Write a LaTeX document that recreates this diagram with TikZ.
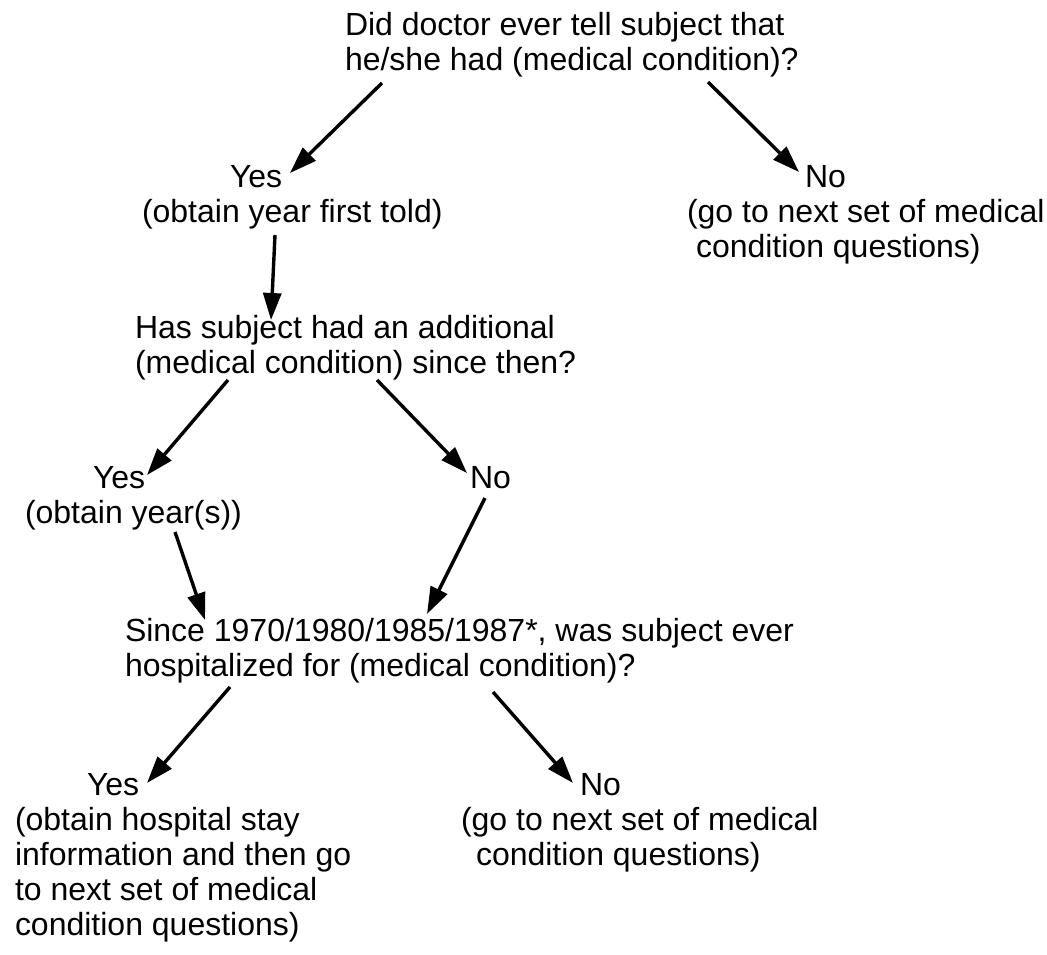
\documentclass[tikz,border=0pt]{standalone}
\usepackage{fontspec}
\setmainfont{Liberation Sans}
\usetikzlibrary{arrows.meta,calc}
\tikzset{
  txt/.style={anchor=base west, inner sep=0pt, outer sep=0pt, align=left,
              font=\fontsize{32}{35}\selectfont},
  arr/.style={line width=3.4pt, -{Triangle[length=27pt,width=18pt]}},
}
\begin{document}
\begin{tikzpicture}[x=1pt,y=-1pt]
\useasboundingbox (0,0) rectangle (1047,955);
% nodes (base anchor = baseline of the last line)
\node[txt] (q1) at (345,71) {Did doctor ever tell subject that\\he/she had (medical condition)?};
\node[txt] (yes1) at (230,187) {Yes};
\node[txt] (ob1) at (142,222) {(obtain year first told)};
\node[txt] (no1) at (805,187) {No};
\node[txt] (go1) at (687,257) {(go to next set of medical\\\hspace*{9pt}condition questions)};
\node[txt] (q2) at (135,373) {Has subject had an additional\\(medical condition) since then?};
\node[txt] (yes2) at (93,488) {Yes};
\node[txt] (ob2) at (25,523) {(obtain year(s))};
\node[txt] (no2) at (470,488) {No};
\node[txt] (q3) at (125,676) {Since 1970/1980/1985/1987*, was subject ever\\hospitalized for (medical condition)?};
\node[txt] (yes3) at (87,795) {Yes};
\node[txt] (ob3) at (15,935) {(obtain hospital stay\\information and then go\\to next set of medical\\condition questions)};
\node[txt] (no3) at (580,795) {No};
\node[txt] (go3) at (461,865) {(go to next set of medical\\\hspace*{15pt}condition questions)};
% connectors
\draw[arr] ($(q1.base west)+(37,12)$)   -- ($(yes1.base west)+(60,-14)$);
\draw[arr] ($(q1.base west)+(363,11)$)  -- ($(no1.base west)+(-6,-15)$);
\draw[arr] ($(ob1.base west)+(133,13)$) -- ($(q2.base west)+(136,-53)$);
\draw[arr] ($(q2.base west)+(93,7)$)    -- ($(yes2.base west)+(54,-13)$);
\draw[arr] ($(q2.base west)+(242,7)$)   -- ($(no2.base west)+(-3,-15)$);
\draw[arr] ($(no2.base west)+(15,10)$)  -- ($(q3.base west)+(302,-62)$);
\draw[arr] ($(ob2.base west)+(150,9)$)  -- ($(q3.base west)+(80,-56)$);
\draw[arr] ($(q3.base west)+(105,11)$)  -- ($(yes3.base west)+(60,-12)$);
\draw[arr] ($(q3.base west)+(368,16)$)  -- ($(no3.base west)+(-7,-12)$);
\end{tikzpicture}
\end{document}
